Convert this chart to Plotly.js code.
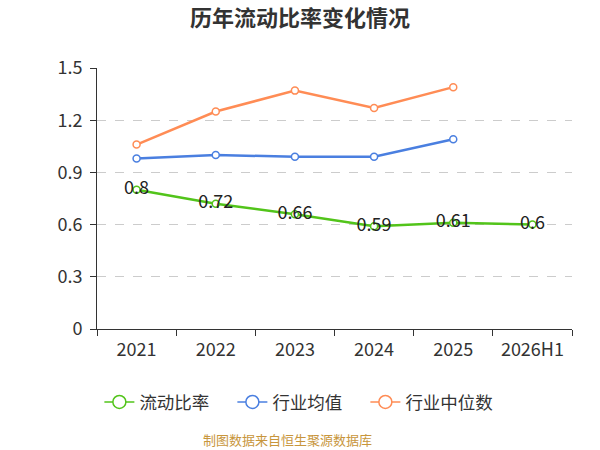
<!DOCTYPE html>
<html>
<head>
<meta charset="utf-8">
<script src="https://cdn.plot.ly/plotly-3.0.1.min.js"></script>
<style>html,body{margin:0;padding:0;background:#fff;}#chart{width:600px;height:450px;}</style>
</head>
<body>
<div id="chart"></div>
<script>
var categories = ["2021", "2022", "2023", "2024", "2025", "2026H1"];
var currentRatio = [0.8, 0.72, 0.66, 0.59, 0.61, 0.6];
var industryMean = [0.98, 1.0, 0.99, 0.99, 1.09, null];
var industryMedian = [1.06, 1.25, 1.37, 1.27, 1.39, null];
var currentLabels = ["0.8", "0.72", "0.66", "0.59", "0.61", "0.6"];
var yTicks = [0, 0.3, 0.6, 0.9, 1.2, 1.5];
var seriesNames = ["流动比率", "行业均值", "行业中位数"];
var seriesColors = ['#52c41a', '#4a7fe0', '#ff8c55'];

var FONT = '"Noto Sans CJK SC", "Noto Sans", sans-serif';

function mk(name, y, color, extra) {
  var t = {
    x: categories, y: y, name: name, type: 'scatter', mode: 'lines+markers',
    line: {color: color, width: 2.5},
    marker: {symbol: 'circle', size: 7, color: '#ffffff', line: {color: color, width: 1.5}},
    hoverinfo: 'skip', cliponaxis: false, showlegend: false
  };
  for (var k in extra) t[k] = extra[k];
  return t;
}

function legendEntry(name, color) {
  return {
    x: [categories[0]], y: [null], name: name, type: 'scatter', mode: 'lines+markers',
    line: {color: color, width: 1.5},
    marker: {symbol: 'circle', size: 13, color: '#ffffff', line: {color: color, width: 1.5}},
    hoverinfo: 'skip', showlegend: true
  };
}

var traces = [
  mk(seriesNames[0], currentRatio, seriesColors[0], {
    mode: 'lines+markers+text', text: currentLabels, textposition: 'middle center',
    textfont: {family: FONT, size: 18, color: '#222222'}
  }),
  mk(seriesNames[1], industryMean, seriesColors[1], {}),
  mk(seriesNames[2], industryMedian, seriesColors[2], {}),
  legendEntry(seriesNames[0], seriesColors[0]),
  legendEntry(seriesNames[1], seriesColors[1]),
  legendEntry(seriesNames[2], seriesColors[2])
];

var layout = {
  width: 600, height: 450,
  margin: {l: 97, r: 28, t: 68, b: 121, autoexpand: false},
  paper_bgcolor: '#ffffff', plot_bgcolor: '#ffffff',
  font: {family: FONT, color: '#333333', size: 15},
  title: {text: '<b>历年流动比率变化情况</b>', x: 0.5, xanchor: 'center', y: 0.96, yanchor: 'middle',
          font: {family: FONT, size: 22, color: '#333333'}},
  showlegend: true,
  legend: {orientation: 'h', x: 0.425, xanchor: 'center', y: -0.28, yanchor: 'middle',
           font: {family: FONT, size: 17.5, color: '#333333'}, itemwidth: 30, entrywidth: 88,
           tracegroupgap: 0, itemsizing: 'trace'},
  xaxis: {
    type: 'category', range: [-0.5, 5.5], tickson: 'boundaries',
    showline: true, linecolor: '#333333', linewidth: 1,
    ticks: 'outside', ticklen: 6, tickcolor: '#333333', ticklabelstandoff: 4,
    showgrid: false, zeroline: false, fixedrange: true,
    tickfont: {family: FONT, size: 18, color: '#333333'}
  },
  yaxis: {
    range: [0, 1.5], tickvals: yTicks, ticktext: yTicks.map(String),
    showline: true, linecolor: '#333333', linewidth: 1,
    ticks: 'outside', ticklen: 6, tickcolor: '#333333', ticklabelstandoff: 4,
    showgrid: true, gridcolor: '#cccccc', griddash: 'dash', gridwidth: 1,
    zeroline: false, fixedrange: true,
    tickfont: {family: FONT, size: 18, color: '#333333'}
  },
  annotations: [{
    text: '制图数据来自恒生聚源数据库', xref: 'paper', yref: 'paper',
    x: 0.402, y: -0.425, xanchor: 'center', yanchor: 'middle', showarrow: false,
    font: {family: FONT, size: 13, color: '#c8963c'}
  }]
};

Plotly.newPlot('chart', traces, layout, {displayModeBar: false, staticPlot: true});
</script>
</body>
</html>
